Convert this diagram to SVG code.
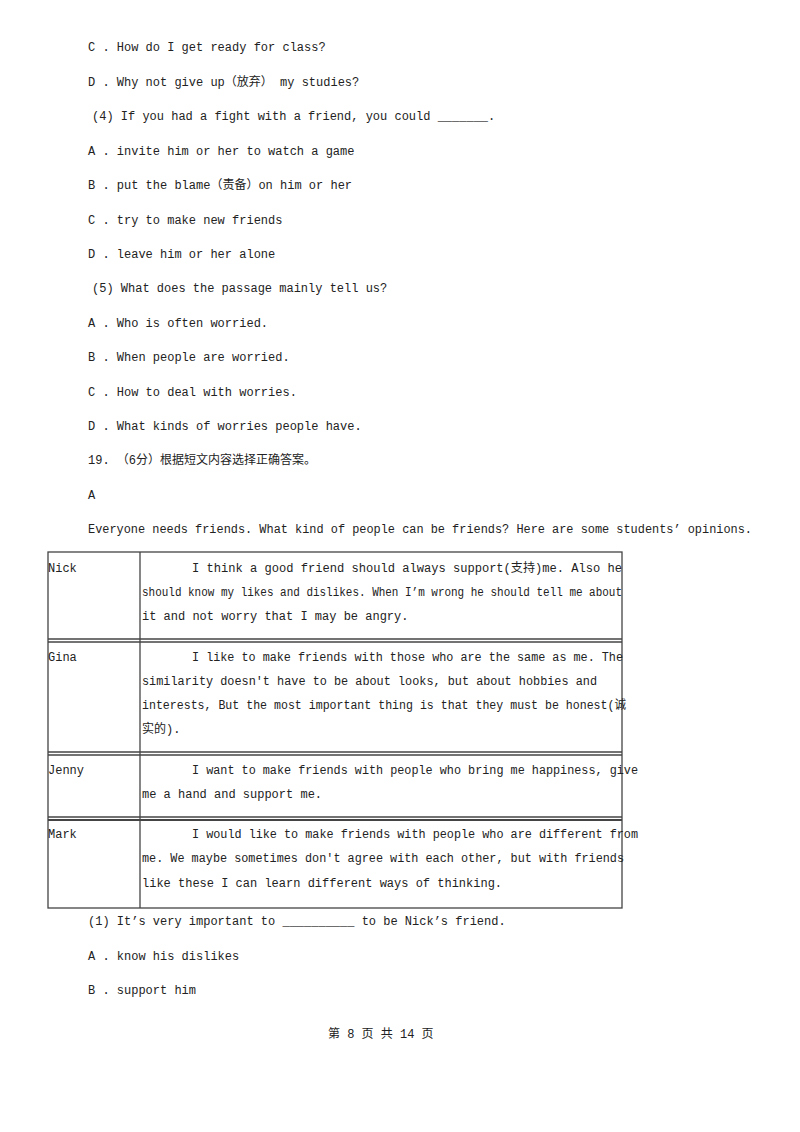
<svg xmlns="http://www.w3.org/2000/svg" width="800" height="1132" viewBox="0 0 800 1132">
<style>
text{font-family:"Liberation Mono","Noto Sans CJK SC",monospace;font-size:12px;fill:#222}
.b{stroke:#444;stroke-width:1.3;fill:none}
</style>
<rect width="800" height="1132" fill="#fff"/>
<text x="88" y="51">C . How do I get ready for class?</text>
<text x="88" y="86">D . Why not give up（放弃） my studies?</text>
<text x="92" y="120">(4) If you had a fight with a friend, you could _______.</text>
<text x="88" y="155">A . invite him or her to watch a game</text>
<text x="88" y="189">B . put the blame（责备）on him or her</text>
<text x="88" y="224">C . try to make new friends</text>
<text x="88" y="258">D . leave him or her alone</text>
<text x="92" y="292">(5) What does the passage mainly tell us?</text>
<text x="88" y="327">A . Who is often worried.</text>
<text x="88" y="361">B . When people are worried.</text>
<text x="88" y="396">C . How to deal with worries.</text>
<text x="88" y="430">D . What kinds of worries people have.</text>
<text x="88" y="464">19. （6分）根据短文内容选择正确答案。</text>
<text x="88" y="499">A</text>
<text x="88" y="533" textLength="664" lengthAdjust="spacingAndGlyphs">Everyone needs friends. What kind of people can be friends? Here are some students’ opinions.</text>
<g id="table">
<rect class="b" x="48" y="552" width="574" height="356"/>
<line class="b" x1="140" y1="552" x2="140" y2="908"/>
<line class="b" x1="48" y1="639" x2="622" y2="639"/><line class="b" x1="48" y1="642" x2="622" y2="642"/>
<line class="b" x1="48" y1="752" x2="622" y2="752"/><line class="b" x1="48" y1="755" x2="622" y2="755"/>
<line class="b" x1="48" y1="817" x2="622" y2="817"/><line x1="48" y1="820" x2="622" y2="820" stroke="#444" stroke-width="2"/>
</g>
<text x="48" y="572">Nick</text>
<text x="192" y="572" textLength="430" lengthAdjust="spacingAndGlyphs">I think a good friend should always support(支持)me. Also he</text>
<text x="142" y="596" textLength="480" lengthAdjust="spacingAndGlyphs">should know my likes and dislikes. When I’m wrong he should tell me about</text>
<text x="142" y="620">it and not worry that I may be angry.</text>
<text x="48" y="661">Gina</text>
<text x="192" y="661" textLength="431" lengthAdjust="spacingAndGlyphs">I like to make friends with those who are the same as me. The</text>
<text x="142" y="685" textLength="455" lengthAdjust="spacingAndGlyphs">similarity doesn't have to be about looks, but about hobbies and</text>
<text x="142" y="709" textLength="484" lengthAdjust="spacingAndGlyphs">interests, But the most important thing is that they must be honest(诚</text>
<text x="142" y="733">实的).</text>
<text x="48" y="774">Jenny</text>
<text x="192" y="774" textLength="446" lengthAdjust="spacingAndGlyphs">I want to make friends with people who bring me happiness, give</text>
<text x="142" y="798">me a hand and support me.</text>
<text x="48" y="838">Mark</text>
<text x="192" y="838" textLength="446" lengthAdjust="spacingAndGlyphs">I would like to make friends with people who are different from</text>
<text x="142" y="862" textLength="482" lengthAdjust="spacingAndGlyphs">me. We maybe sometimes don't agree with each other, but with friends</text>
<text x="142" y="887">like these I can learn different ways of thinking.</text>
<text x="88" y="925">(1) It’s very important to __________ to be Nick’s friend.</text>
<text x="88" y="960">A . know his dislikes</text>
<text x="88" y="994">B . support him</text>
<text x="328" y="1038">第 8 页 共 14 页</text>
</svg>
